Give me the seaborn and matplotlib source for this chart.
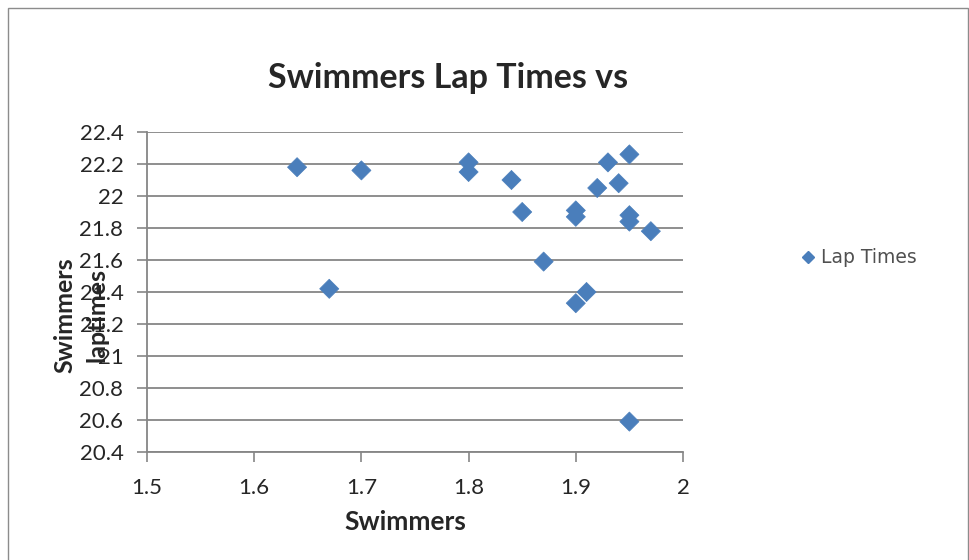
import matplotlib
matplotlib.use("Agg")
import matplotlib.pyplot as plt
import pandas as pd
import seaborn as sns
from matplotlib.patches import Rectangle

# values
swimmers = [1.64, 1.67, 1.70, 1.80, 1.80, 1.84, 1.85, 1.87, 1.90, 1.90,
            1.90, 1.91, 1.92, 1.93, 1.94, 1.95, 1.95, 1.95, 1.95, 1.97]
lap_times = [22.18, 21.42, 22.16, 22.21, 22.15, 22.10, 21.90, 21.59, 21.91, 21.87,
             21.33, 21.40, 22.05, 22.21, 22.08, 22.26, 21.88, 21.84, 20.59, 21.78]
x_ticks = [1.5, 1.6, 1.7, 1.8, 1.9, 2.0]
x_tick_labels = ["1.5", "1.6", "1.7", "1.8", "1.9", "2"]
y_ticks = [20.4, 20.6, 20.8, 21.0, 21.2, 21.4, 21.6, 21.8, 22.0, 22.2, 22.4]
y_tick_labels = ["20.4", "20.6", "20.8", "21", "21.2", "21.4", "21.6", "21.8", "22", "22.2", "22.4"]

df = pd.DataFrame({"Swimmers": swimmers, "Lap Times": lap_times, "series": "Lap Times"})

sns.set_style("white")
plt.rcParams["font.family"] = ["Lato", "DejaVu Sans"]

fig = plt.figure(figsize=(9.7, 5.6), dpi=100)
# thin chart-area border (bottom edge falls outside the image, as in the reference)
fig.patches.append(Rectangle((8 / 970, -0.02), 960 / 970, 1.02 - 8 / 560, transform=fig.transFigure,
                             fill=False, edgecolor="#8c8c8c", linewidth=1.0))
ax = fig.add_axes([147 / 970, 1 - 452 / 560, 536 / 970, 320 / 560])

sns.scatterplot(data=df, x="Swimmers", y="Lap Times", hue="series", palette=["#4a7ebb"],
                marker="D", s=95, edgecolor="#4a7ebb", linewidth=0.5, ax=ax, zorder=3, legend=False)

ax.set_xlim(1.5, 2.0)
ax.set_ylim(20.4, 22.4)
ax.set_xticks(x_ticks)
ax.set_xticklabels(x_tick_labels)
ax.set_yticks(y_ticks)
ax.set_yticklabels(y_tick_labels)
ax.tick_params(axis="both", labelsize=16, length=7, width=1.2, color="#868686", direction="out")
ax.tick_params(axis="y", left=True, pad=10)
ax.tick_params(axis="x", bottom=True, pad=12)
ax.grid(axis="y", color="#868686", linewidth=1.3)
ax.grid(axis="x", visible=False)
ax.set_axisbelow(True)
for side in ["top", "right"]:
    ax.spines[side].set_visible(False)
for side in ["left", "bottom"]:
    ax.spines[side].set_color("#868686")
    ax.spines[side].set_linewidth(1.3)
ax.set_xlabel("")
ax.set_ylabel("")

fig.text(448 / 970, 1 - 78 / 560, "Swimmers Lap Times vs", ha="center", va="center",
         fontsize=24.5, fontweight="bold")
fig.text(405 / 970, 1 - 522 / 560, "Swimmers", ha="center", va="center",
         fontsize=19, fontweight="bold")
fig.text(81 / 970, 1 - 315 / 560, "Swimmers\nlaptimes", ha="center", va="center", rotation=90,
         multialignment="center", fontsize=18, fontweight="bold", linespacing=1.45)

handle = plt.Line2D([], [], marker="D", color="#4a7ebb", linestyle="none", markersize=6)
fig.legend([handle], ["Lap Times"], loc="center left", bbox_to_anchor=(782 / 970, 1 - 258 / 560),
           frameon=False, prop={"family": "DejaVu Sans", "size": 13.5},
           handletextpad=0.2, handlelength=1.0, labelcolor="#505050")

fig.savefig("out.png", dpi=100)
